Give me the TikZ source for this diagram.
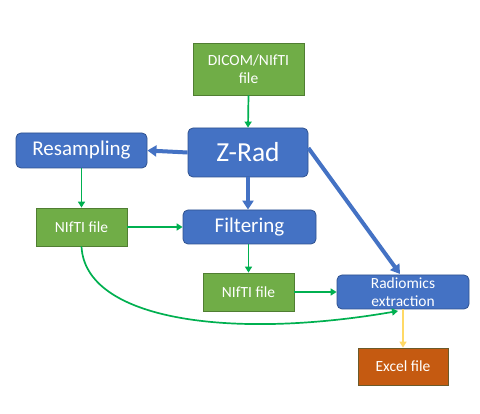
\documentclass[tikz,border=0pt]{standalone}
\usepackage{fontspec}
\setmainfont{Carlito}
\usetikzlibrary{arrows.meta}
\definecolor{bfill}{HTML}{4472C4}
\definecolor{bdraw}{HTML}{2F528F}
\definecolor{gfill}{HTML}{70AD47}
\definecolor{gdraw}{HTML}{507E32}
\definecolor{garrow}{HTML}{00B050}
\definecolor{ofill}{HTML}{C55A11}
\definecolor{odraw}{HTML}{6B5A2A}
\definecolor{yarrow}{HTML}{FFD966}
\tikzset{
  bluebox/.style={draw=bdraw, fill=bfill, line width=0.8pt, rounded corners=5pt, text=white, inner sep=0pt, align=center},
  greenbox/.style={draw=gdraw, fill=gfill, line width=0.8pt, text=white, inner sep=0pt, align=center},
  orangebox/.style={draw=odraw, fill=ofill, line width=0.8pt, text=white, inner sep=0pt, align=center},
  garr/.style={draw=garrow, line width=1.7pt, -{Triangle[length=6pt,width=7pt]}},
  barr/.style={draw=bfill, line width=4pt, -{Triangle[length=9pt,width=11pt]}},
  yarr/.style={draw=yarrow, line width=2.2pt, -{Triangle[length=6pt,width=7pt]}},
  smallfont/.style={font=\fontsize{15.5}{18.5}\selectfont},
}
\begin{document}
\begin{tikzpicture}[x=1pt,y=-1pt]
\useasboundingbox[fill=white] (0,0) rectangle (480,414);
\node[greenbox, minimum width=111pt, minimum height=52pt, smallfont] (dicom) at (248.5,69) {DICOM/NIfTI\\file};
\node[bluebox, minimum width=120pt, minimum height=49pt, font=\fontsize{27.5}{30}\selectfont] (zrad) at (248,152.5) {Z-Rad};
\node[bluebox, minimum width=131pt, minimum height=35pt, font=\fontsize{21}{24}\selectfont] (resamp) at (81.5,150.5) {Resampling};
\node[greenbox, minimum width=91pt, minimum height=38pt, smallfont] (nifti1) at (81.5,227) {NIfTI file};
\node[bluebox, minimum width=133pt, minimum height=34pt, font=\fontsize{21}{24}\selectfont] (filt) at (249.5,227) {Filtering};
\node[greenbox, minimum width=91pt, minimum height=38pt, smallfont] (nifti2) at (248.5,292) {NIfTI file};
\node[bluebox, minimum width=132pt, minimum height=34pt, smallfont] (radio) at (403,292) {Radiomics\\extraction};
\node[orangebox, minimum width=90pt, minimum height=37pt, smallfont] (excel) at (403,366.5) {Excel file};

\draw[garr] (dicom.south) -- (zrad.north);
\draw[barr] (zrad.west) -- (resamp.east);
\draw[barr] (zrad.south) -- (filt.north -| zrad.south);
\coordinate (rtop) at (400,274);
\draw[barr] (zrad.east |- 0,148) -- (rtop);
\draw[garr] (resamp.south) -- (nifti1.north);
\draw[garr] (nifti1.east) -- (filt.west |- nifti1.east);
\draw[garr] (filt.south -| nifti2.north) -- (nifti2.north);
\draw[garr] (nifti2.east) -- (radio.west |- nifti2.east);
\coordinate (rbot) at (398,311);
\draw[garr] (nifti1.south) .. controls (85,320) and (230,340) .. (rbot);
\draw[yarr] (radio.south) -- (excel.north);
\end{tikzpicture}
\end{document}
